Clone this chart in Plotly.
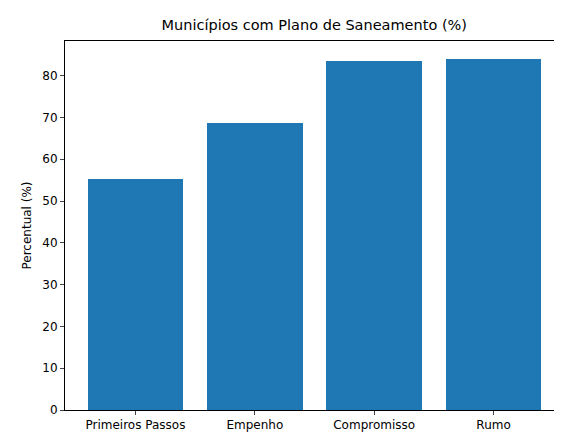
import plotly.graph_objects as go

categories = ["Primeiros Passos", "Empenho", "Compromisso", "Rumo"]
values = [55.2, 68.6, 83.4, 84.1]

fig = go.Figure(go.Bar(x=list(range(len(categories))), y=values, width=0.8,
                       marker=dict(color="#1f77b4", line=dict(width=0))))
fig.update_layout(
    width=562, height=436,
    margin=dict(l=57, r=6, t=33, b=34, autoexpand=False),
    paper_bgcolor="white", plot_bgcolor="white",
    font=dict(family="DejaVu Sans", size=12, color="black"),
    title=dict(text="Municípios com Plano de Saneamento (%)", x=0.545, xanchor="center",
               y=1-17/436, yanchor="middle", font=dict(size=14.5)),
    showlegend=False, bargap=0,
)
fig.update_xaxes(range=[-0.59, 3.59], tickvals=list(range(len(categories))), ticktext=categories,
                 showline=True, linecolor="black", mirror=True, ticks="outside", ticklen=4,
                 showgrid=False, tickfont=dict(size=12), automargin=False)
fig.update_yaxes(range=[0, 88.3], dtick=10, showline=True, linecolor="black", mirror=True,
                 ticks="outside", ticklen=4, showgrid=False, zeroline=False, automargin=False,
                 title=dict(text="Percentual (%)", standoff=8, font=dict(size=12)), tickfont=dict(size=12))
fig.write_html("out.html")
